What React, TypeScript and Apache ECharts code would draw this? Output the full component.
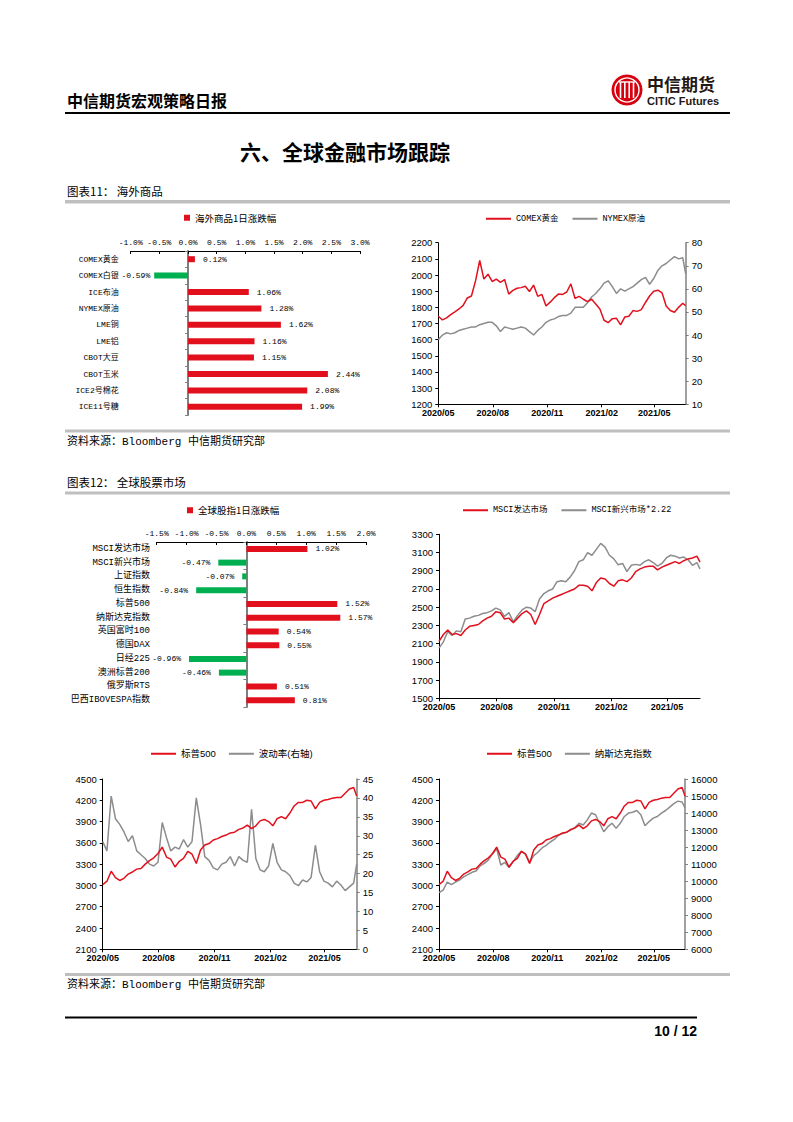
import React, { useEffect, useRef } from 'react';
import * as echarts from 'echarts';

// ---------- data ----------
const dates = [
  '2020-05-27', '2020-06-03', '2020-06-10', '2020-06-17', '2020-06-24', '2020-07-01', '2020-07-08', '2020-07-15',
  '2020-07-22', '2020-07-29', '2020-08-05', '2020-08-12', '2020-08-19', '2020-08-26', '2020-09-02', '2020-09-09',
  '2020-09-16', '2020-09-23', '2020-09-30', '2020-10-07', '2020-10-14', '2020-10-21', '2020-10-28', '2020-11-04',
  '2020-11-11', '2020-11-18', '2020-11-25', '2020-12-02', '2020-12-09', '2020-12-16', '2020-12-23', '2020-12-30',
  '2021-01-06', '2021-01-13', '2021-01-20', '2021-01-27', '2021-02-03', '2021-02-10', '2021-02-17', '2021-02-24',
  '2021-03-03', '2021-03-10', '2021-03-17', '2021-03-24', '2021-03-31', '2021-04-07', '2021-04-14', '2021-04-21',
  '2021-04-28', '2021-05-05', '2021-05-12', '2021-05-19', '2021-05-26', '2021-06-02', '2021-06-09', '2021-06-16',
  '2021-06-23', '2021-06-30', '2021-07-07', '2021-07-14', '2021-07-19',
];

const xTickDates = ['2020-05-27', '2020-08-27', '2020-11-27', '2021-02-27', '2021-05-27'];

const comexGold = [
  1745, 1722, 1735, 1755, 1772, 1790, 1812, 1858, 1870, 1965, 2090, 1975, 2005, 1960, 1975, 1955,
  1972, 1882, 1905, 1918, 1922, 1930, 1898, 1938, 1868, 1880, 1808, 1832, 1860, 1882, 1880, 1895,
  1945, 1855, 1868, 1850, 1835, 1850, 1820, 1790, 1720, 1705, 1730, 1732, 1692, 1740, 1745, 1780,
  1775, 1786, 1830, 1870, 1900, 1906, 1890, 1808, 1780, 1770, 1800, 1825, 1810,
];
const nymexOil = [
  38, 40, 41, 40.5, 41, 42, 42.5, 43, 43.5, 43.5, 44.5, 45, 45.5, 45.5, 44, 41.5,
  43.5, 43, 42.5, 43, 43.5, 43, 41.5, 40, 42, 43.5, 45.5, 46.5, 47, 48, 48.5, 48.5,
  49.5, 52, 52, 52, 54, 56.5, 58, 60, 62.5, 63.5, 61, 58, 60, 59, 60, 61,
  62.5, 64, 65, 62, 64.5, 68, 70, 71, 72.5, 74, 73, 73.5, 66.5,
];
const msciDeveloped = [
  2125, 2200, 2250, 2200, 2210, 2190, 2250, 2290, 2300, 2310, 2350, 2380, 2400, 2450, 2440, 2370,
  2380, 2330, 2380, 2430, 2460, 2420, 2310, 2420, 2540, 2570, 2600, 2620, 2640, 2660, 2680, 2700,
  2740, 2740, 2730, 2680, 2770, 2820, 2810, 2760, 2730, 2790, 2800, 2780, 2820, 2890, 2920, 2940,
  2950, 2950, 2910, 2940, 2960, 2980, 3000, 2980, 3010, 3030, 3040, 3060, 2995,
];
const msciEmerging = [
  2050, 2120, 2230, 2190, 2240, 2230, 2370, 2380, 2400, 2410, 2430, 2440, 2460, 2490, 2470, 2400,
  2440, 2340, 2410, 2470, 2500, 2490, 2450, 2590, 2650, 2680, 2700, 2780, 2790, 2780, 2830, 2900,
  3000, 3020, 3100, 3070, 3135, 3200, 3160, 3070, 3030, 2965, 2980, 2890, 2960, 2970, 2960, 3000,
  3020, 2990, 2950, 2980, 3040, 3070, 3060, 3040, 3050, 3020, 2960, 2990, 2920,
];
const sp500 = [
  3010, 3060, 3200, 3110, 3070, 3100, 3160, 3190, 3230, 3240, 3300, 3350, 3390, 3450, 3540, 3400,
  3370, 3260, 3340, 3380, 3480, 3440, 3310, 3500, 3570, 3590, 3640, 3660, 3690, 3710, 3740, 3750,
  3790, 3810, 3850, 3800, 3840, 3910, 3930, 3900, 3840, 3940, 3970, 3940, 4020, 4120, 4170, 4170,
  4200, 4190, 4080, 4170, 4200, 4210, 4230, 4240, 4240, 4300, 4360, 4380, 4260,
];
const vix = [
  28.5, 26, 40.5, 34.5, 33, 31, 28.5, 30, 26, 25, 24, 22.5, 22, 23, 33.5, 29.5,
  26, 27, 26.5, 29, 27, 28.5, 40, 33, 24.5, 23.5, 21.5, 21, 22.5, 23, 24.5, 22,
  24.5, 23.5, 23, 37, 24, 21, 20.5, 22, 28, 23, 21, 20.5, 19.5, 17.5, 16.8, 18.3,
  17.8, 19, 27.5, 20.5, 18, 17.5, 16.5, 18, 17, 15.5, 16.5, 17.5, 22.5,
];
const nasdaq = [
  9330, 9480, 9950, 9800, 9950, 10070, 10250, 10380, 10520, 10600, 10900, 11050, 11250, 11600, 11920, 10950,
  11100, 10800, 11150, 11500, 11750, 11600, 11100, 11500, 11700, 11950, 12100, 12300, 12450, 12700, 12800, 12880,
  13000, 13150, 13400, 13300, 13600, 14000, 13900, 13400, 12900, 13200, 13400, 13100, 13400, 13800, 14000, 14050,
  14150, 13900, 13250, 13500, 13700, 13800, 14000, 14150, 14350, 14550, 14700, 14650, 14300,
];

const commodityNames = ['COMEX黄金', 'COMEX白银', 'ICE布油', 'NYMEX原油', 'LME铜', 'LME铝', 'CBOT大豆', 'CBOT玉米', 'ICE2号棉花', 'ICE11号糖'];
const commodityChange = [0.12, -0.59, 1.06, 1.28, 1.62, 1.16, 1.15, 2.44, 2.08, 1.99];

const equityNames = ['MSCI发达市场', 'MSCI新兴市场', '上证指数', '恒生指数', '标普500', '纳斯达克指数', '英国富时100', '德国DAX', '日经225', '澳洲标普200', '俄罗斯RTS', '巴西IBOVESPA指数'];
const equityChange = [1.02, -0.47, -0.07, -0.84, 1.52, 1.57, 0.54, 0.55, -0.96, -0.46, 0.51, 0.81];

const msciTicks = [1500, 1700, 1900, 2100, 2300, 2500, 2700, 2900, 3100, 3300];

// ---------- styles ----------
const RED = '#e2101c';
const GREEN = '#00b050';
const GRAY = '#8c8c8c';
const MONO = '"Liberation Mono", "Noto Sans CJK SC", monospace';
const SANS = '"Liberation Sans", "Noto Sans CJK SC", sans-serif';
const CJK = '"Noto Sans CJK SC", sans-serif';

const DAY = 86400000;
const T0 = Date.parse(dates[0]);
const dayOf = (d: string) => Math.round((Date.parse(d) - T0) / DAY);
const X_MAX = dayOf(dates[dates.length - 1]);
const xTickValues = xTickDates.map(dayOf);

function fmtMonth(v: number) {
  const d = new Date(T0 + v * DAY);
  return d.getUTCFullYear() + '/' + String(d.getUTCMonth() + 1).padStart(2, '0');
}

function series2d(arr: number[]) {
  return dates.map((d, i) => [dayOf(d), arr[i]]);
}

function timeAxis(gridIndex: number) {
  return {
    type: 'value',
    gridIndex,
    min: 0,
    max: X_MAX,
    axisLine: { show: true, onZero: false, lineStyle: { color: '#000', width: 1 } },
    axisTick: { show: true, customValues: xTickValues, length: 3, lineStyle: { color: '#000' } },
    axisLabel: {
      customValues: xTickValues,
      formatter: fmtMonth,
      fontSize: 9,
      fontWeight: 'bold',
      fontFamily: SANS,
      color: '#000',
      margin: 4,
    },
    splitLine: { show: false },
  };
}

function valueAxis(
  gridIndex: number,
  position: string,
  min: number,
  max: number,
  interval: number | null,
  lineColor: string,
  lineWidth: number,
  custom?: number[],
) {
  const ax: any = {
    type: 'value',
    gridIndex,
    position,
    min,
    max,
    axisLine: { show: true, onZero: false, lineStyle: { color: lineColor, width: lineWidth } },
    axisTick: { show: true, length: 3, lineStyle: { color: lineColor } },
    axisLabel: {
      fontSize: 9.5,
      fontFamily: SANS,
      color: '#000',
      margin: 6,
      formatter: (v: number) => String(v),
    },
    splitLine: { show: false },
  };
  if (custom) {
    ax.axisLabel.customValues = custom;
    ax.axisTick.customValues = custom;
  } else if (interval != null) {
    ax.interval = interval;
  }
  return ax;
}

function barValueAxis(gridIndex: number, min: number, max: number) {
  return {
    type: 'value',
    gridIndex,
    position: 'top',
    min,
    max,
    interval: 0.5,
    axisLine: { show: true, onZero: false, lineStyle: { color: '#000', width: 1 } },
    axisTick: { show: true, inside: true, length: 3, lineStyle: { color: '#000' } },
    axisLabel: {
      formatter: (v: number) => v.toFixed(1) + '%',
      fontSize: 8,
      fontFamily: MONO,
      color: '#000',
      margin: 5,
    },
    splitLine: { show: false },
  };
}

function zeroCategoryAxis(gridIndex: number, names: string[]) {
  return {
    type: 'category',
    gridIndex,
    data: names,
    inverse: true,
    position: 'left',
    axisLine: { show: true, onZero: true, lineStyle: { color: '#7f7f7f', width: 2 } },
    axisTick: { show: true, length: 3, lineStyle: { color: '#7f7f7f' } },
    axisLabel: { show: false },
    splitLine: { show: false },
  };
}

function labelCategoryAxis(gridIndex: number, names: string[], fontSize: number, margin: number) {
  return {
    type: 'category',
    gridIndex,
    data: names,
    inverse: true,
    position: 'left',
    axisLine: { show: false, onZero: false },
    axisTick: { show: false },
    axisLabel: { fontSize, fontFamily: MONO, color: '#000', margin },
    splitLine: { show: false },
  };
}

function barSeries(name: string, xi: number, yi: number, values: number[], negDistance: number) {
  return {
    type: 'bar',
    name,
    xAxisIndex: xi,
    yAxisIndex: yi,
    barWidth: 6,
    itemStyle: { color: RED },
    label: {
      show: true,
      position: 'right',
      distance: 8,
      formatter: (p: any) => Number(p.value).toFixed(2) + '%',
      fontSize: 8,
      fontFamily: MONO,
      color: '#000',
    },
    data: values.map((v) => ({
      value: v,
      itemStyle: { color: v < 0 ? GREEN : RED },
      label: v < 0 ? { position: 'left', distance: negDistance } : { position: 'right' },
    })),
  };
}

function lineSeries(name: string, xi: number, yi: number, values: number[], color: string, z: number) {
  return {
    type: 'line',
    name,
    xAxisIndex: xi,
    yAxisIndex: yi,
    showSymbol: false,
    symbol: 'none',
    z,
    lineStyle: { color, width: 1.5 },
    itemStyle: { color },
    data: series2d(values),
  };
}

const lineLegendBase = {
  icon: 'rect',
  itemWidth: 25,
  itemHeight: 2,
  itemGap: 14,
  padding: 0,
  selectedMode: false,
};

const barLegendBase = {
  icon: 'rect',
  itemWidth: 6,
  itemHeight: 6,
  padding: 0,
  selectedMode: false,
  textStyle: { fontSize: 9.5, fontFamily: CJK, color: '#000' },
};

function buildOption() {
  const grids = [
    { left: 130.7, top: 251, width: 229.3, height: 164 },
    { left: 438.3, top: 242.7, width: 247.4, height: 161.6 },
    { left: 156.7, top: 542, width: 209.3, height: 165 },
    { left: 439, top: 534.3, width: 261, height: 164 },
    { left: 102.7, top: 779, width: 254, height: 170.3 },
    { left: 439, top: 779, width: 246, height: 170.3 },
  ].map((g) => ({ ...g, containLabel: false, outerBoundsMode: 'none' }));

  const xAxis = [
    barValueAxis(0, -1, 3),
    timeAxis(1),
    barValueAxis(2, -1.5, 2),
    timeAxis(3),
    timeAxis(4),
    timeAxis(5),
  ];

  const yAxis = [
    zeroCategoryAxis(0, commodityNames), // 0
    labelCategoryAxis(0, commodityNames, 8, 12), // 1
    valueAxis(1, 'left', 1200, 2200, 100, '#000', 1), // 2
    valueAxis(1, 'right', 10, 80, 10, '#808080', 1.5), // 3
    zeroCategoryAxis(2, equityNames), // 4
    labelCategoryAxis(2, equityNames, 9, 6.7), // 5
    valueAxis(3, 'left', 1500, 3300, null, '#000', 1, msciTicks), // 6
    valueAxis(4, 'left', 2100, 4500, 300, '#000', 1), // 7
    valueAxis(4, 'right', 0, 45, 5, '#808080', 1.5), // 8
    valueAxis(5, 'left', 2100, 4500, 300, '#000', 1), // 9
    valueAxis(5, 'right', 6000, 16000, 1000, '#808080', 1.5), // 10
  ];

  const series = [
    barSeries('海外商品1日涨跌幅', 0, 0, commodityChange, 4),
    lineSeries('COMEX黄金', 1, 2, comexGold, RED, 3),
    lineSeries('NYMEX原油', 1, 3, nymexOil, GRAY, 2),
    barSeries('全球股指1日涨跌幅', 2, 4, equityChange, 8),
    lineSeries('MSCI发达市场', 3, 6, msciDeveloped, RED, 3),
    lineSeries('MSCI新兴市场*2.22', 3, 6, msciEmerging, GRAY, 2),
    lineSeries('标普500', 4, 7, sp500, RED, 3),
    lineSeries('波动率(右轴)', 4, 8, vix, GRAY, 2),
    lineSeries('标普500', 5, 9, sp500, RED, 3),
    lineSeries('纳斯达克指数', 5, 10, nasdaq, GRAY, 2),
  ];

  const legend = [
    { ...barLegendBase, data: ['海外商品1日涨跌幅'], left: 184, top: 213 },
    { ...lineLegendBase, data: ['COMEX黄金', 'NYMEX原油'], left: 486, top: 214.5, textStyle: { fontSize: 8.5, fontFamily: MONO, color: '#000' } },
    { ...barLegendBase, data: ['全球股指1日涨跌幅'], left: 187, top: 505.5 },
    { ...lineLegendBase, data: ['MSCI发达市场', 'MSCI新兴市场*2.22'], left: 463, top: 506, textStyle: { fontSize: 8.5, fontFamily: MONO, color: '#000' } },
    { ...lineLegendBase, data: ['标普500', '波动率(右轴)'], left: 151, top: 749, itemGap: 13, textStyle: { fontSize: 9.5, fontFamily: SANS, color: '#000' } },
    { ...lineLegendBase, data: ['标普500', '纳斯达克指数'], left: 487, top: 749, itemGap: 13, textStyle: { fontSize: 9.5, fontFamily: SANS, color: '#000' } },
  ];

  const grayBar = (y: number, h: number) => ({
    type: 'rect',
    shape: { x: 65, y, width: 665, height: h },
    style: { fill: '#bfbfbf' },
    silent: true,
  });
  const text = (x: number, y: number, t: string, font: string, align = 'left') => ({
    type: 'text',
    x,
    y,
    silent: true,
    style: { text: t, font, fill: '#000', textAlign: align, textVerticalAlign: 'middle' },
  });

  const logoCx = 627;
  const logoCy = 90;
  const graphic = [
    text(67, 100, '中信期货宏观策略日报', `bold 16px ${CJK}`),
    { type: 'line', shape: { x1: 65, y1: 113, x2: 730, y2: 113 }, style: { stroke: '#000', lineWidth: 2 }, silent: true },
    { type: 'circle', shape: { cx: logoCx, cy: logoCy, r: 15.5 }, style: { fill: '#d7000f' }, silent: true },
    { type: 'circle', shape: { cx: logoCx, cy: logoCy, r: 12 }, style: { fill: 'none', stroke: '#fff', lineWidth: 1.4 }, silent: true },
    ...[-6.5, -2.2, 2.2, 6.5].map((dx) => ({
      type: 'line',
      shape: { x1: logoCx + dx, y1: logoCy - 8, x2: logoCx + dx, y2: logoCy + 8 },
      style: { stroke: '#fff', lineWidth: 1.6 },
      silent: true,
    })),
    { type: 'line', shape: { x1: logoCx - 8, y1: logoCy - 8, x2: logoCx + 8, y2: logoCy - 8 }, style: { stroke: '#fff', lineWidth: 1.4 }, silent: true },
    { type: 'text', x: 647, y: 83, silent: true, style: { text: '中信期货', font: `bold 17px ${CJK}`, fill: '#231815', textAlign: 'left', textVerticalAlign: 'middle' } },
    { type: 'text', x: 647, y: 100.5, silent: true, style: { text: 'CITIC Futures', font: `bold 11px ${SANS}`, fill: '#231815', textAlign: 'left', textVerticalAlign: 'middle' } },
    text(345, 151, '六、全球金融市场跟踪', `bold 21px ${CJK}`, 'center'),
    text(67, 191, '图表11： 海外商品', `11.5px ${CJK}`),
    grayBar(200, 3.5),
    grayBar(429.5, 3),
    text(67, 442, '资料来源：Bloomberg 中信期货研究部', `11px ${MONO}`),
    text(67, 482, '图表12： 全球股票市场', `11.5px ${CJK}`),
    grayBar(491.5, 3),
    grayBar(973, 3),
    text(67, 985, '资料来源：Bloomberg 中信期货研究部', `11px ${MONO}`),
    { type: 'line', shape: { x1: 65, y1: 1017.5, x2: 697, y2: 1017.5 }, style: { stroke: '#000', lineWidth: 2 }, silent: true },
    text(697, 1031, '10 / 12', `bold 14px ${SANS}`, 'right'),
  ];

  return {
    animation: false,
    backgroundColor: '#fff',
    grid: grids,
    xAxis,
    yAxis,
    series,
    legend,
    graphic,
  };
}

export default function App() {
  const ref = useRef<HTMLDivElement>(null);
  useEffect(() => {
    if (!ref.current) return;
    const chart = echarts.init(ref.current, null, { renderer: 'svg' });
    chart.setOption(buildOption() as any);
    return () => chart.dispose();
  }, []);
  return (
    <div
      ref={ref}
      style={{ position: 'fixed', left: 0, top: 0, width: 793, height: 1122, background: '#fff' }}
    />
  );
}
